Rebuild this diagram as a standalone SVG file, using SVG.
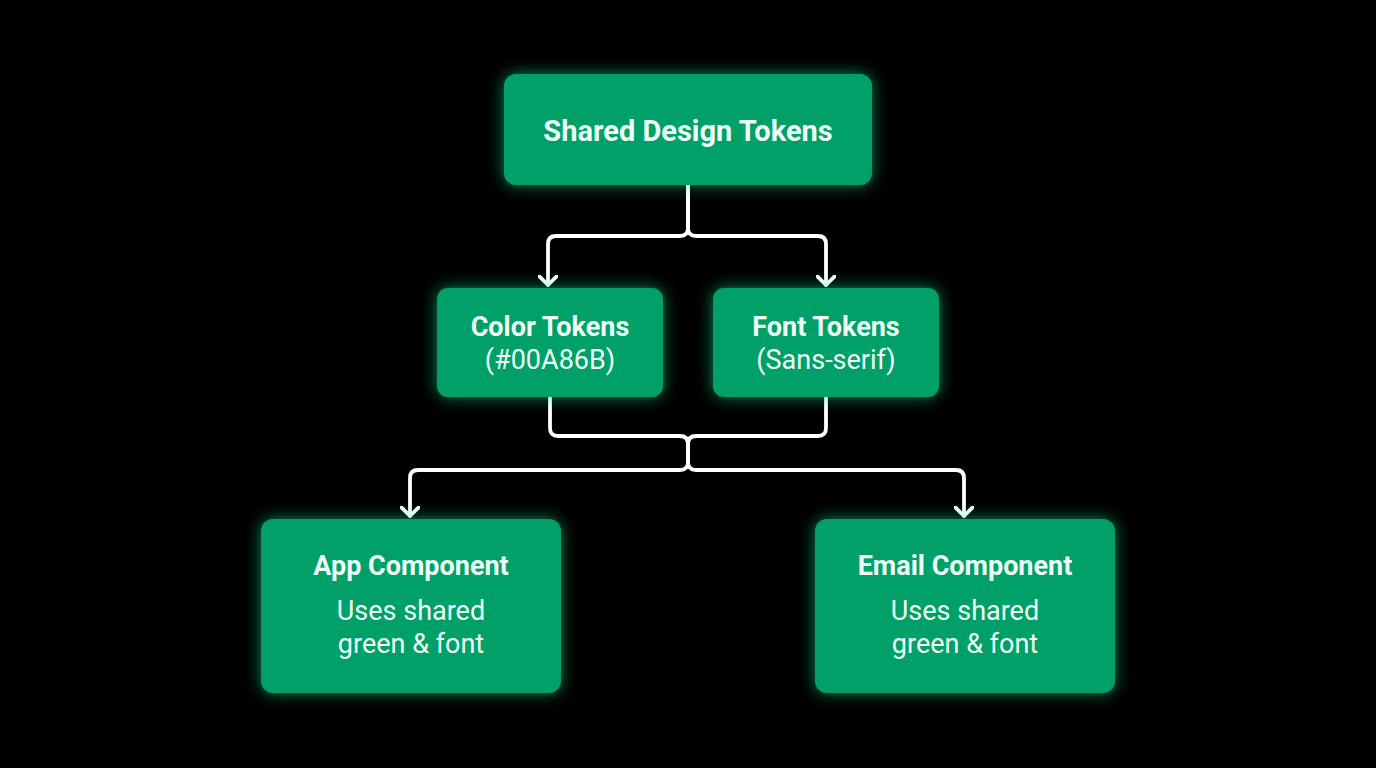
<svg xmlns="http://www.w3.org/2000/svg" width="1376" height="768" viewBox="0 0 1376 768">
<defs>
<filter id="glow" x="-30%" y="-30%" width="160%" height="160%">
<feGaussianBlur in="SourceAlpha" stdDeviation="8" result="b"/>
<feFlood flood-color="#19e08f" flood-opacity="0.6"/>
<feComposite in2="b" operator="in" result="g"/>
<feMerge><feMergeNode in="g"/><feMergeNode in="SourceGraphic"/></feMerge>
</filter>
<marker id="arr" markerWidth="20" markerHeight="20" viewBox="-10 -10 20 20" refX="0" refY="0" orient="auto" markerUnits="userSpaceOnUse">
<path d="M-9,-9 L0,0 L-9,9" fill="none" stroke="#ffffff" stroke-width="3.8" stroke-linecap="round" stroke-linejoin="round"/>
</marker>
</defs>
<style>
.box{fill:#03A068;filter:url(#glow);}
.t{font-family:Roboto,"Liberation Sans",sans-serif;fill:#EEFFF6;text-anchor:middle;}
.b{font-weight:700;}
.c{fill:none;stroke:#ffffff;stroke-width:3.8;stroke-linecap:round;stroke-linejoin:round;}
</style>
<rect width="1376" height="768" fill="#000000"/>
<g id="connectors">
<path class="c" d="M688,186 V228 Q688,236 680,236 H556 Q548,236 548,244 V285" marker-end="url(#arr)"/>
<path class="c" d="M688,186 V228 Q688,236 696,236 H818 Q826,236 826,244 V285" marker-end="url(#arr)"/>
<path class="c" d="M550,398 V428 Q550,436 558,436 H680 Q688,436 688,444 V462 Q688,470 680,470 H418 Q410,470 410,478 V516" marker-end="url(#arr)"/>
<path class="c" d="M826,398 V428 Q826,436 818,436 H696 Q688,436 688,444 V462 Q688,470 696,470 H956 Q964,470 964,478 V516" marker-end="url(#arr)"/>
</g>
<g id="shared">
<rect class="box" x="504" y="74" width="368" height="111" rx="12"/>
<text class="t b" x="688" y="141" font-size="29">Shared Design Tokens</text>
</g>
<g id="color">
<rect class="box" x="437" y="288" width="226" height="109" rx="11"/>
<text class="t b" x="550" y="336" font-size="27">Color Tokens</text>
<text class="t" x="550" y="369" font-size="27">(#00A86B)</text>
</g>
<g id="font">
<rect class="box" x="713" y="288" width="226" height="109" rx="11"/>
<text class="t b" x="826" y="336" font-size="27">Font Tokens</text>
<text class="t" x="826" y="369" font-size="27">(Sans-serif)</text>
</g>
<g id="app">
<rect class="box" x="261" y="519" width="300" height="174" rx="12"/>
<text class="t b" x="411" y="575" font-size="27">App Component</text>
<text class="t" x="411" y="620" font-size="27">Uses shared</text>
<text class="t" x="411" y="653" font-size="27">green &amp; font</text>
</g>
<g id="email">
<rect class="box" x="815" y="519" width="300" height="174" rx="12"/>
<text class="t b" x="965" y="575" font-size="27">Email Component</text>
<text class="t" x="965" y="620" font-size="27">Uses shared</text>
<text class="t" x="965" y="653" font-size="27">green &amp; font</text>
</g>
</svg>
